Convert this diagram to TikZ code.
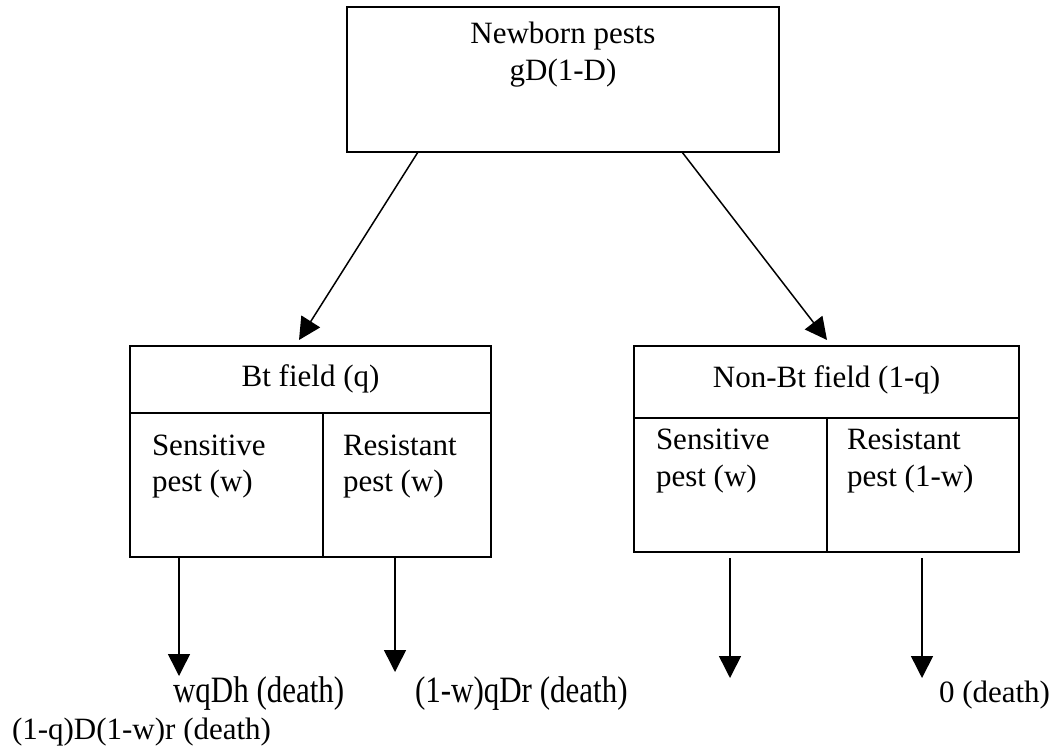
\documentclass[tikz,border=0pt]{standalone}
\usepackage{fontspec}
\setmainfont{Liberation Serif}
\usepackage{graphicx}
\usetikzlibrary{arrows.meta}
\begin{document}
\begin{tikzpicture}[x=0.5pt,y=-0.5pt,
  box/.style={draw, line width=1pt, inner sep=0pt, outer sep=0pt},
  lbl/.style={inner sep=0pt, outer sep=0pt, font=\fontsize{15.5}{18}\selectfont},
  arr/.style={line width=0.75pt, -{Triangle[length=11pt,width=11pt]}}]
\useasboundingbox (0,0) rectangle (1058,749);
% top box
\node[box, minimum width=216pt, minimum height=72.5pt] (top) at (563,79.5) {};
\node[lbl, anchor=base] (topA) at (563,44) {Newborn pests};
\node[lbl, anchor=base] (topB) at (563,81) {gD(1-D)};
% Bt field box
\node[box, minimum width=180.5pt, minimum height=33.5pt] (btH) at (310.5,379.5) {};
\node[box, minimum width=96.5pt, minimum height=72pt] (btS) at (226.5,485) {};
\node[box, minimum width=84pt, minimum height=72pt] (btR) at (407,485) {};
\node[lbl, anchor=base] (btHt) at (310.5,386) {Bt field (q)};
\node[lbl, anchor=base west] (btSa) at (152,455) {Sensitive};
\node[lbl, anchor=base west] (btSb) at (152,491) {pest (w)};
\node[lbl, anchor=base west] (btRa) at (343,455) {Resistant};
\node[lbl, anchor=base west] (btRb) at (343,491) {pest (w)};
% Non-Bt field box
\node[box, minimum width=192.5pt, minimum height=36pt] (nbH) at (826.5,382) {};
\node[box, minimum width=96.5pt, minimum height=67pt] (nbS) at (730.5,485) {};
\node[box, minimum width=96pt, minimum height=67pt] (nbR) at (923,485) {};
\node[lbl, anchor=base] (nbHt) at (826.5,387) {Non-Bt field (1-q)};
\node[lbl, anchor=base west] (nbSa) at (656,449) {Sensitive};
\node[lbl, anchor=base west] (nbSb) at (656,486) {pest (w)};
\node[lbl, anchor=base west] (nbRa) at (847,449) {Resistant};
\node[lbl, anchor=base west] (nbRb) at (847,486) {pest (1-w)};
% arrows from top box
\draw[arr] ([xshift=-72.5pt]top.south) -- ([xshift=-5.75pt,yshift=3pt]btH.north);
\draw[arr] ([xshift=59.5pt]top.south) -- ([xshift=0.25pt,yshift=3pt]nbH.north);
% end points
\coordinate (e1) at (179,676);
\coordinate (e2) at (395,672);
\coordinate (e3) at (730,678);
\coordinate (e4) at (922,678);
\draw[arr] (btS.south -| e1) -- (e1);
\draw[arr] (btR.south -| e2) -- (e2);
\draw[arr] ([yshift=-3pt]nbS.south -| e3) -- (e3);
\draw[arr] ([yshift=-3pt]nbR.south -| e4) -- (e4);
% death labels
\node[lbl, anchor=base west] (d1) at (173,702) {\scalebox{1}[1.2]{wqDh (death)}};
\node[lbl, anchor=base west] (d2) at (415,702) {\scalebox{1}[1.2]{(1-w)qDr (death)}};
\node[lbl, anchor=base west] (d3) at (12,739) {(1-q)D(1-w)r (death)};
\node[lbl, anchor=base west] (d4) at (939,702) {0 (death)};
\end{tikzpicture}
\end{document}
